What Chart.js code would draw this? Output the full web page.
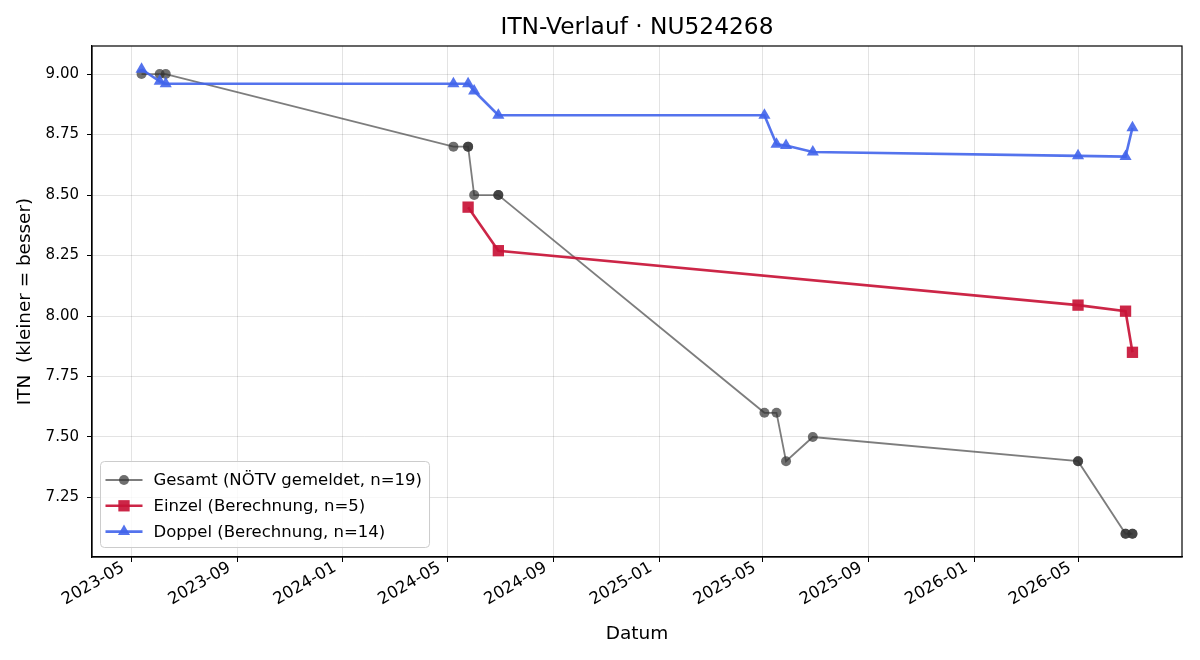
<!DOCTYPE html>
<html lang="de">
<head>
<meta charset="UTF-8">
<title>ITN-Verlauf</title>
<script src="https://cdn.jsdelivr.net/npm/chart.js"></script>
<style>
    body { margin: 0; background: #fff; }
    #wrap { width: 1200px; height: 660px; }
</style>
</head>
<body>
<div id="wrap"><canvas id="itnChart" width="1200" height="660"></canvas></div>
<script>
const chartTitle = 'ITN-Verlauf · NU524268';
const xAxisTitle = 'Datum';
const yAxisTitle = 'ITN  (kleiner = besser)';

const xTickLabels = ['2023-05', '2023-09', '2024-01', '2024-05', '2024-09', '2025-01', '2025-05', '2025-09', '2026-01', '2026-05'];
const yTicks = [7.25, 7.5, 7.75, 8.0, 8.25, 8.5, 8.75, 9.0];

const gesamtLabel = 'Gesamt (NÖTV gemeldet, n=19)';
const gesamtDates = ['2023-05-13', '2023-06-03', '2023-06-10', '2024-05-08', '2024-05-25', '2024-05-25', '2024-06-01',
    '2024-06-29', '2024-06-29', '2025-05-03', '2025-05-17', '2025-05-28', '2025-06-28', '2026-05-01', '2026-05-01',
    '2026-06-25', '2026-06-25', '2026-07-03', '2026-07-03'];
const gesamtValues = [9.0, 9.0, 9.0, 8.7, 8.7, 8.7, 8.5, 8.5, 8.5, 7.6, 7.6, 7.4, 7.5, 7.4, 7.4, 7.1, 7.1, 7.1, 7.1];

const einzelLabel = 'Einzel (Berechnung, n=5)';
const einzelDates = ['2024-05-25', '2024-06-29', '2026-05-01', '2026-06-25', '2026-07-03'];
const einzelValues = [8.45, 8.27, 8.045, 8.02, 7.85];

const doppelLabel = 'Doppel (Berechnung, n=14)';
const doppelDates = ['2023-05-13', '2023-06-03', '2023-06-10', '2024-05-08', '2024-05-25', '2024-06-01', '2024-06-29',
    '2025-05-03', '2025-05-17', '2025-05-28', '2025-06-28', '2026-05-01', '2026-06-25', '2026-07-03'];
const doppelValues = [9.02, 8.97, 8.96, 8.96, 8.96, 8.93, 8.83, 8.83, 8.71, 8.705, 8.678, 8.662, 8.659, 8.778];

const FONT = "'DejaVu Sans', sans-serif";

// dates -> day numbers for the linear x scale
function toDay(s) {
    const p = s.split('-');
    return Date.UTC(+p[0], +p[1] - 1, p[2] ? +p[2] : 1) / 864e5;
}
function toPoints(dates, values) {
    return dates.map((d, i) => ({ x: toDay(d), y: values[i] }));
}

const allX = [...gesamtDates, ...einzelDates, ...doppelDates].map(toDay);
const allY = [...gesamtValues, ...einzelValues, ...doppelValues];
const xLo = Math.min(...allX), xHi = Math.max(...allX);
const yLo = Math.min(...allY), yHi = Math.max(...allY);
const xPad = (xHi - xLo) * 0.05, yPad = (yHi - yLo) * 0.05;

// frame, title and legend box like the original figure
const figureExtras = {
    id: 'figureExtras',
    afterDraw(chart) {
        const { ctx, chartArea: a } = chart;
        ctx.save();
        ctx.strokeStyle = '#000';
        ctx.lineWidth = 1.2;
        ctx.strokeRect(a.left, a.top, a.right - a.left, a.bottom - a.top);

        ctx.fillStyle = '#000';
        ctx.font = '23.3px ' + FONT;
        ctx.textAlign = 'center';
        ctx.textBaseline = 'middle';
        ctx.fillText(chartTitle, (a.left + a.right) / 2, 28);

        // legend
        const items = chart.data.datasets;
        ctx.font = '16.5px ' + FONT;
        const textW = Math.max(...items.map(d => ctx.measureText(d.label).width));
        const bx = a.left + 8.5, bh = 86, by = a.bottom - 9.5 - bh;
        const bw = 60.5 + textW;
        ctx.beginPath();
        ctx.roundRect(bx, by, bw, bh, 4);
        ctx.fillStyle = 'rgba(255,255,255,0.8)';
        ctx.fill();
        ctx.strokeStyle = '#cccccc';
        ctx.lineWidth = 1;
        ctx.stroke();

        items.forEach((d, i) => {
            const y = by + 18.5 + i * 25.8;
            ctx.strokeStyle = d.borderColor;
            ctx.lineWidth = d.borderWidth;
            ctx.beginPath();
            ctx.moveTo(bx + 5, y);
            ctx.lineTo(bx + 42, y);
            ctx.stroke();
            drawMarker(ctx, d.pointStyle, bx + 23.5, y, d.pointRadius, d.pointBackgroundColor);
            ctx.fillStyle = '#000';
            ctx.textAlign = 'left';
            ctx.fillText(d.label, bx + 53, y + 1);
        });
        ctx.restore();
    }
};

function drawMarker(ctx, style, x, y, r, color) {
    ctx.fillStyle = color;
    ctx.beginPath();
    if (style === 'rect') {
        const s = r * Math.SQRT1_2;
        ctx.rect(x - s, y - s, 2 * s, 2 * s);
    } else if (style === 'triangle') {
        ctx.moveTo(x, y - r);
        ctx.lineTo(x + r * 0.866, y + r * 0.5);
        ctx.lineTo(x - r * 0.866, y + r * 0.5);
        ctx.closePath();
    } else {
        ctx.arc(x, y, r, 0, Math.PI * 2);
    }
    ctx.fill();
}

const gesamtColor = 'rgba(70,70,70,0.7)';
const einzelColor = 'rgba(200,20,55,0.92)';
const doppelColor = 'rgba(65,100,235,0.9)';

const itnChart = new Chart(document.getElementById('itnChart').getContext('2d'), {
    type: 'line',
    data: {
        datasets: [{
            label: gesamtLabel,
            data: toPoints(gesamtDates, gesamtValues),
            borderColor: gesamtColor,
            borderWidth: 1.8,
            pointStyle: 'circle',
            pointRadius: 5,
            pointBackgroundColor: 'rgba(50,50,50,0.7)',
            pointBorderWidth: 0,
            order: 3
        }, {
            label: einzelLabel,
            data: toPoints(einzelDates, einzelValues),
            borderColor: einzelColor,
            borderWidth: 2.6,
            pointStyle: 'rect',
            pointRadius: 8,
            pointBackgroundColor: einzelColor,
            pointBorderWidth: 0,
            order: 2
        }, {
            label: doppelLabel,
            data: toPoints(doppelDates, doppelValues),
            borderColor: doppelColor,
            borderWidth: 2.6,
            pointStyle: 'triangle',
            pointRadius: 7,
            pointBackgroundColor: doppelColor,
            pointBorderWidth: 0,
            order: 1
        }]
    },
    options: {
        responsive: false,
        animation: false,
        devicePixelRatio: 1,
        layout: { padding: { top: 46, right: 18, bottom: 11, left: 10 } },
        elements: { line: { tension: 0, fill: false } },
        plugins: {
            legend: { display: false },
            title: { display: false },
            tooltip: { enabled: false }
        },
        scales: {
            x: {
                type: 'linear',
                min: xLo - xPad,
                max: xHi + xPad,
                afterFit(scale) { scale.height = 92; },
                afterBuildTicks(scale) {
                    scale.ticks = xTickLabels.map(l => ({ value: toDay(l) }));
                },
                ticks: {
                    autoSkip: false,
                    maxRotation: 30,
                    minRotation: 30,
                    padding: -4,
                    labelOffset: -8,
                    color: '#000',
                    font: { family: FONT, size: 16.5 },
                    callback: (v, i) => xTickLabels[i]
                },
                grid: { color: 'rgba(0,0,0,0.11)', tickColor: '#000', tickLength: 5, lineWidth: 1 },
                border: { color: '#000', width: 1.2 },
                title: { display: true, text: xAxisTitle, color: '#000', font: { family: FONT, size: 18.5 } }
            },
            y: {
                min: yLo - yPad,
                max: yHi + yPad,
                afterFit(scale) { scale.width = 82; },
                afterBuildTicks(scale) {
                    scale.ticks = yTicks.map(v => ({ value: v }));
                },
                ticks: {
                    padding: 8,
                    color: '#000',
                    font: { family: FONT, size: 15 },
                    callback: v => v.toFixed(2)
                },
                grid: { color: 'rgba(0,0,0,0.11)', tickColor: '#000', tickLength: 5, lineWidth: 1 },
                border: { color: '#000', width: 1.2 },
                title: { display: true, text: yAxisTitle, color: '#000', font: { family: FONT, size: 18.4 } }
            }
        }
    },
    plugins: [figureExtras]
});
</script>
</body>
</html>
